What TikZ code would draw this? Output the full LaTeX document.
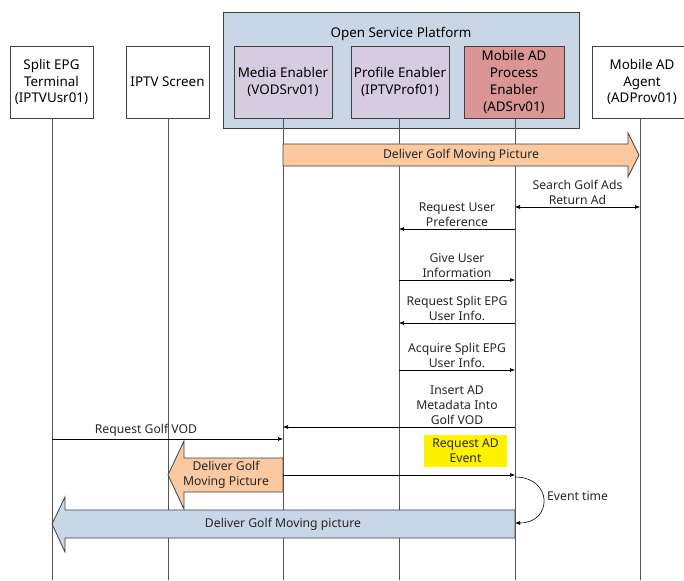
\documentclass[tikz,border=0pt]{standalone}
\usepackage{fontspec}
\setmainfont{Noto Sans}
\usetikzlibrary{arrows.meta}

\definecolor{platformfill}{HTML}{C9D6E6}
\definecolor{enablerfill}{HTML}{D6CCE0}
\definecolor{adfill}{HTML}{D99694}
\definecolor{peach}{HTML}{FAC9A2}
\definecolor{paleblue}{HTML}{C9D6E6}
\definecolor{lifegray}{HTML}{555555}
\definecolor{edgegray}{HTML}{404040}

\tikzset{
  boxfont/.style={font=\fontsize{13.4}{16.7}\selectfont},
  msgfont/.style={font=\fontsize{12.2}{15}\selectfont},
  actor/.style={draw=edgegray, line width=0.8pt, fill=white, align=center,
    boxfont, minimum height=72pt, inner sep=1pt},
  enabler/.style={actor, fill=enablerfill},
  lifeline/.style={draw=lifegray, line width=0.9pt},
  msg/.style={draw=black, line width=0.6pt, -{Latex[length=5pt,width=4pt]}},
  msglabel/.style={msgfont, align=center, inner sep=1pt, text=black!85},
  blockarrow/.style={draw=edgegray, line width=0.8pt},
}

\begin{document}
\begin{tikzpicture}[x=1pt,y=-1pt]
\useasboundingbox (0,0) rectangle (684,580);

% service platform container
\node[draw=edgegray, line width=0.8pt, fill=platformfill, minimum width=356pt,
      minimum height=116pt, inner sep=0pt] (osp) at (401,70) {};
\node[boxfont, inner sep=0pt] (osptitle) at (401,34) {Open Service Platform};

% participants
\node[actor, minimum width=83pt] (epg) at (51.5,82) {Split EPG\\Terminal\\(IPTVUsr01)};
\node[actor, minimum width=83pt] (tv) at (167.5,82) {IPTV Screen};
\node[enabler, minimum width=98pt] (media) at (283,82) {Media Enabler\\(VODSrv01)};
\node[enabler, minimum width=98pt] (prof) at (400,82) {Profile Enabler\\(IPTVProf01)};
\node[actor, fill=adfill, minimum width=100pt] (adsrv) at (514,82) {Mobile AD\\Process\\Enabler\\(ADSrv01)};
\node[actor, minimum width=100pt] (agent) at (642,82) {Mobile AD\\Agent\\(ADProv01)};

% lifelines
\coordinate (epgEnd) at (52,580);
\coordinate (tvEnd) at (168,580);
\coordinate (mediaEnd) at (283,580);
\coordinate (profEnd) at (399,580);
\coordinate (adEnd) at (515,580);
\coordinate (agentEnd) at (640,580);
\draw[lifeline] (52,118) -- (epgEnd);
\draw[lifeline] (168,118) -- (tvEnd);
\draw[lifeline] (283,118) -- (mediaEnd);
\draw[lifeline] (399,118) -- (profEnd);
\draw[lifeline] (515,118) -- (adEnd);
\draw[lifeline] (640,118) -- (agentEnd);

% delivery of the moving picture towards the agent
\draw[blockarrow, fill=peach] (283,144) -- (628,144) -- (628,133) -- (639,155)
  -- (628,177) -- (628,166) -- (283,166) -- cycle;
\node[msglabel] (deliver1) at (461,155) {Deliver Golf Moving Picture};

% ad search
\coordinate (s1) at (515,207);
\coordinate (s2) at (640,207);
\draw[draw=black, line width=0.6pt, {Latex[length=5pt,width=4pt]}-{Latex[length=5pt,width=4pt]}] (s1) -- (s2);
\node[msglabel, anchor=south] (search) at (577.5,206) {Search Golf Ads\\Return Ad};

% profile exchanges
\coordinate (m1a) at (515,229); \coordinate (m1b) at (399,229);
\draw[msg] (m1a) -- (m1b);
\node[msglabel, anchor=south] (reqpref) at (457,228) {Request User\\Preference};

\coordinate (m2a) at (399,280); \coordinate (m2b) at (515,280);
\draw[msg] (m2a) -- (m2b);
\node[msglabel, anchor=south] (giveinfo) at (457,279) {Give User\\Information};

\coordinate (m3a) at (515,323); \coordinate (m3b) at (399,323);
\draw[msg] (m3a) -- (m3b);
\node[msglabel, anchor=south] (reqsplit) at (457,322) {Request Split EPG\\User Info.};

\coordinate (m4a) at (399,370); \coordinate (m4b) at (515,370);
\draw[msg] (m4a) -- (m4b);
\node[msglabel, anchor=south] (acqsplit) at (457,369) {Acquire Split EPG\\User Info.};

\coordinate (m5a) at (515,427); \coordinate (m5b) at (283,427);
\draw[msg] (m5a) -- (m5b);
\node[msglabel, anchor=south] (insert) at (457,426) {Insert AD\\Metadata Into\\Golf VOD};

% VOD request from the terminal
\coordinate (m6a) at (52,439); \coordinate (m6b) at (283,439);
\draw[msg] (m6a) -- (m6b);
\node[msglabel, anchor=south] (reqvod) at (146,438) {Request Golf VOD};

% ad event trigger
\node[msglabel, fill=yellow, minimum width=83pt, minimum height=32pt] (adevent)
  at (465.5,451) {Request AD\\Event};

% delivery to the IPTV screen
\draw[blockarrow, fill=peach] (283,458) -- (184,458) -- (184,441) -- (168,475)
  -- (184,509) -- (184,492) -- (283,492) -- cycle;
\node[msglabel] (deliver2) at (226,475) {Deliver Golf\\Moving Picture};

\coordinate (m7a) at (283,475); \coordinate (m7b) at (515,475);
\draw[msg] (m7a) -- (m7b);

% event timing
\coordinate (t1) at (515,477); \coordinate (t2) at (515,523);
\draw[draw=black, line width=0.6pt, -{Latex[length=5pt,width=4pt]}]
  (t1) .. controls (553,477) and (553,523) .. (t2);
\node[msglabel, anchor=west] (evtime) at (546,496) {Event time};

% delivery to the terminal
\draw[blockarrow, fill=paleblue] (515,510) -- (65,510) -- (65,497) -- (52,524)
  -- (65,552) -- (65,538) -- (515,538) -- cycle;
\node[msglabel] (deliver3) at (283,524) {Deliver Golf Moving picture};

\end{tikzpicture}
\end{document}
